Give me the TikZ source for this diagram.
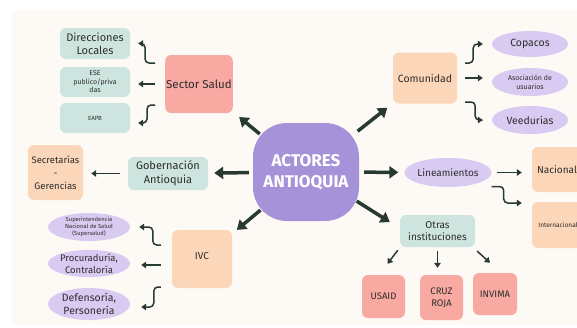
\documentclass[tikz,border=0pt]{standalone}
\usepackage{fontspec}
\setmainfont{Fira Sans}
\usetikzlibrary{arrows.meta,shapes.geometric}
\definecolor{cream}{HTML}{FDF9F5}
\definecolor{tealc}{HTML}{CDE4DF}
\definecolor{pinkc}{HTML}{F7A9A2}
\definecolor{peachc}{HTML}{FCD6B8}
\definecolor{lavc}{HTML}{D8CAF1}
\definecolor{purplec}{HTML}{A692D8}
\definecolor{arrc}{HTML}{263A30}
\definecolor{txtc}{HTML}{2E2E2E}
\tikzset{
  box/.style={rounded corners=6pt, inner sep=1pt, align=center, text=txtc},
  tealbox/.style={box, fill=tealc},
  pinkbox/.style={box, fill=pinkc},
  peachbox/.style={box, fill=peachc},
  lavell/.style={ellipse, fill=lavc, inner sep=0pt, align=center, text=txtc},
  bigarrow/.style={draw=arrc, line width=3.5pt, -{Triangle[length=9pt,width=12pt]}},
  smallarrow/.style={draw=arrc, line width=1.5pt, rounded corners=4pt, -{Triangle[length=5pt,width=6.5pt]}},
}
\begin{document}
\begin{tikzpicture}[x=1pt,y=-1pt]
\useasboundingbox (0,0) rectangle (577,327);
\fill[white] (0,0) rectangle (577,327);
\fill[cream] (12,10) rectangle (577,325);

% center
\node[rounded corners=34pt, fill=purplec, minimum width=106pt, minimum height=98pt, text=white, align=center, font=\bfseries\fontsize{17}{21}\selectfont] (center) at (306,172) {ACTORES\\ANTIOQUIA};

% Sector salud group
\node[pinkbox, minimum width=62pt, minimum height=58pt, font=\fontsize{11.5}{13}\selectfont] (salud) at (199,84) {Sector Salud};
\node[tealbox, minimum width=70pt, minimum height=31pt, font=\fontsize{11}{13}\selectfont] (dir) at (95,43.5) {Direcciones\\Locales};
\node[tealbox, minimum width=70pt, minimum height=30pt, font=\fontsize{7}{8.5}\selectfont] (ese) at (95,82) {ESE\\publico/priva\\das};
\node[tealbox, minimum width=70pt, minimum height=30pt, font=\fontsize{6}{7}\selectfont] (eapb) at (95,118) {EAPB};

% Comunidad group
\node[peachbox, minimum width=64pt, minimum height=51pt, font=\fontsize{10.5}{12}\selectfont] (com) at (425,78) {Comunidad};
\node[lavell, minimum width=76pt, minimum height=26pt, font=\fontsize{10.5}{12}\selectfont] (cop) at (530,44) {Copacos};
\node[lavell, minimum width=76pt, minimum height=28pt, font=\fontsize{7}{8.5}\selectfont] (asoc) at (530,82) {Asociación de\\usuarios};
\node[lavell, minimum width=76pt, minimum height=28pt, font=\fontsize{10.5}{12}\selectfont] (veed) at (530,120) {Veedurias};

% Gobernacion
\node[tealbox, minimum width=80pt, minimum height=33pt, font=\fontsize{11}{14}\selectfont] (gob) at (168,173.5) {Gobernación\\Antioquia};
\node[peachbox, minimum width=55pt, minimum height=55pt, font=\fontsize{9.5}{13}\selectfont] (sec) at (55.5,172.5) {Secretarías\\-\\Gerencias};

% IVC
\node[peachbox, minimum width=60pt, minimum height=58pt, font=\fontsize{10}{12}\selectfont] (ivc) at (202,259) {\raisebox{6pt}{IVC}};
\node[lavell, minimum width=82pt, minimum height=27pt, font=\fontsize{5.8}{7}\selectfont] (sup) at (89,227) {Superintendencia\\Nacional de Salud\\(Supersalud)};
\node[lavell, minimum width=82pt, minimum height=27pt, font=\fontsize{9.5}{11.5}\selectfont] (proc) at (89,263.5) {Procuraduría,\\Contraloría};
\node[lavell, minimum width=82pt, minimum height=32pt, font=\fontsize{10.5}{13.5}\selectfont] (def) at (89,304) {Defensoría,\\Personería};

% Lineamientos
\node[lavell, minimum width=87pt, minimum height=29pt, font=\fontsize{10}{12}\selectfont] (lin) at (448,172.5) {Lineamientos};
\node[peachbox, minimum width=50pt, minimum height=45pt, font=\fontsize{10}{12}\selectfont] (nac) at (557,169.5) {Nacional};
\node[peachbox, minimum width=50pt, minimum height=46pt, font=\fontsize{6.5}{8}\selectfont] (int) at (557,225) {\hspace*{2pt}Internacional};

% Otras
\node[tealbox, minimum width=75pt, minimum height=32pt, font=\fontsize{10}{12.5}\selectfont] (otras) at (437.5,231) {Otras\\instituciones};
\node[pinkbox, minimum width=43pt, minimum height=43pt, font=\fontsize{9.5}{12}\selectfont] (usaid) at (383.5,296.5) {USAID};
\node[pinkbox, minimum width=43pt, minimum height=45pt, font=\fontsize{9.5}{12}\selectfont] (cruz) at (441.5,297.5) {CRUZ\\ROJA};
\node[pinkbox, minimum width=44pt, minimum height=42pt, font=\fontsize{9.5}{12}\selectfont] (invima) at (495,294) {INVIMA};

% big arrows
\draw[bigarrow, shorten <=-9pt, shorten >=8pt] (center) -- (salud);
\draw[bigarrow, shorten <=-2pt, shorten >=7pt] (center) -- (com);
\draw[bigarrow, shorten <=4pt, shorten >=6pt] (center) -- (gob);
\draw[bigarrow, shorten <=-10pt, shorten >=6pt] (center) -- (ivc);
\draw[bigarrow, shorten <=5pt, shorten >=6pt] (center) -- (lin);
\draw[bigarrow, shorten <=-3pt] (center.-30) -- ([shift={(-10,-9)}]otras.west);

% Sector salud arrows
\draw[smallarrow] ([shift={(-10,-21)}]salud.west) -- ++(-10,0) |- ([xshift=8pt]dir.east);
\draw[smallarrow] ([xshift=-10pt]salud.west) -- ([xshift=8pt]salud.west -| ese.east);
\draw[smallarrow] ([shift={(-10,21)}]salud.west) -- ++(-8,0) |- ([shift={(8,5)}]eapb.east);

% Comunidad arrows
\draw[smallarrow] ([shift={(8,-15)}]com.east) -- ++(8,0) |- ([xshift=-9pt]cop.west);
\draw[smallarrow] ([xshift=8pt]com.east) -- ([xshift=-9pt]com.east -| asoc.west);
\draw[smallarrow] ([shift={(8,24)}]com.east) -- ++(10,0) |- ([xshift=-9pt]veed.west);

% Gobernacion arrow
\draw[smallarrow] ([xshift=-8pt]gob.west) -- ([xshift=8pt]gob.west -| sec.east);

% IVC arrows
\draw[smallarrow] ([shift={(-11,-14)}]ivc.west) -- ++(-8,0) |- ([xshift=9pt]sup.east);
\draw[smallarrow] ([shift={(-11,6)}]ivc.west) -- ([shift={(11,6)}]ivc.west -| proc.east);
\draw[smallarrow] ([shift={(-11,28)}]ivc.west) -- ++(-7,0) |- ([shift={(11,3)}]def.east);

% Lineamientos arrows
\draw[smallarrow] ([xshift=5pt]lin.east) -- ([xshift=-10pt]lin.east -| nac.west);
\draw[smallarrow] ([shift={(0,14)}]lin.east) -- ++(12,0) |- ([shift={(-10,-22)}]int.west);

% Otras arrows
\draw[smallarrow] ([shift={(-2,3)}]otras.south west) -- ([shift={(4,-11)}]usaid.north);
\draw[smallarrow, shorten <=4pt, shorten >=7pt] (otras.south) -- (otras.south |- cruz.north);
\draw[smallarrow] ([shift={(2,4)}]otras.south east) -- ([shift={(-5,-10)}]invima.north);
\end{tikzpicture}
\end{document}
